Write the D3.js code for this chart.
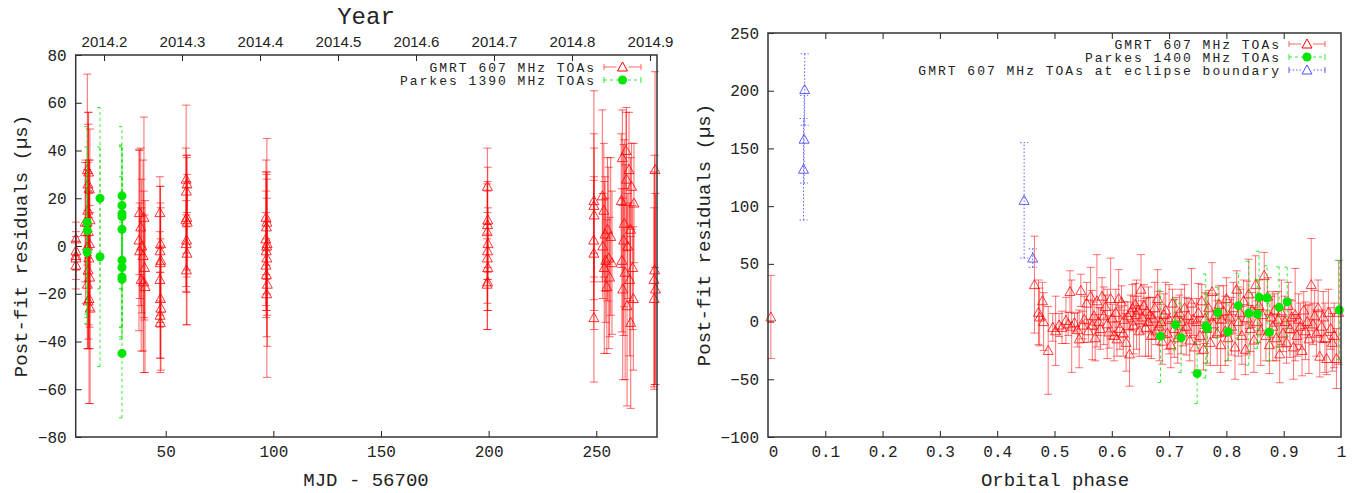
<!DOCTYPE html>
<html>
<head>
<meta charset="utf-8">
<script src="https://cdn.jsdelivr.net/npm/d3@7"></script>
<style>
  body { margin: 0; background: #fff; }
  svg text { fill: #222; }
  .mono { font-family: "Liberation Mono", monospace; }
</style>
</head>
<body>
<div id="graphicContainer"></div>
<script>
// ---- left panel: residuals vs MJD ----
var gmrtMjd = [8.3, 8.3, 8.3, 8.3, 8.3,
  12.6, 12.8, 13.6, 14.2, 13.9, 14.5, 13.8, 14.8, 13.5, 14.1, 14.6, 13.7, 14.3, 14.0, 14.7, 13.6, 14.4, 14.0, 14.9,
  37.8, 39.9, 38.4, 37.6, 38.9, 37.9, 39.5, 40.2, 38.6, 40.4, 39.8,
  47.3, 47.6, 47.4, 47.7, 47.5, 47.3, 47.6, 47.8, 47.4, 47.5,
  59.5, 59.9, 59.6, 59.8, 59.4, 60.0, 59.7, 59.5, 59.9, 59.6,
  96.6, 97.0, 96.8, 96.5, 97.1, 96.9, 96.7, 97.0, 96.6, 96.8, 97.2, 96.9,
  199.4, 199.6, 199.5, 199.3, 199.7, 199.5, 199.4, 199.6, 199.5, 199.3,
  248.9, 248.9, 249.0, 248.8, 248.9, 248.9,
  252.8, 253.5, 255.2, 254.1, 256.7, 253.0, 255.8, 254.4, 257.3, 253.7, 256.2, 254.9,
  263.8, 262.1, 265.2, 264.0, 266.4, 261.6, 267.5, 263.0, 265.9, 262.7, 264.6, 261.9, 266.9, 263.4, 265.5, 262.3, 267.2, 264.3, 266.0,
  277.3, 277.1, 276.8, 277.5, 276.9]
var gmrtRes = [3, -2, -4, -5, -8,
  10, 6, 32, 31, 26, 24, 15, 11, 10, 6, 1, 0, -5, -10, -13, -16, -22, -23, -26,
  14, 12, 8, 2.5, 0, -2, -4, -9, -14, -17, -15,
  14, 1, -2, -6, -7, -14, -22, -26, -29, -32,
  28, 26, 23, 12, 11, 10, 2.5, 1, -3, -10,
  12, 10, 8, 3, 1, 0, -2, -5, -8, -12, -16, -20,
  25, 11, 9, 6, 1, -2, -5, -9, -15, -16,
  19, 17, 13, 2.5, -3, -30,
  21, 15, 7, 5, 4, 0, -5, -6, -7, -9, -13, -17,
  40, 37, 32, 28, 25, 19, 18, 9.5, 7, 2.5, 0, -6, -9, -11, -14, -18, -22, -25, -32,
  32, -10, -14, -18, -22]
var gmrtErr = [7, 8, 6, 9, 10,
  25, 30, 40, 25, 30, 12, 20, 38, 22, 45, 35, 15, 28, 33, 30, 27, 44, 20, 40,
  26, 42, 33, 38, 28, 20, 40, 22, 30, 36, 38,
  15, 24, 27, 22, 25, 20, 25, 26, 18, 21,
  31, 12, 15, 25, 30, 20, 22, 18, 30, 23,
  24, 18, 22, 28, 30, 20, 25, 50, 22, 15, 26, 18,
  16, 22, 18, 20, 15, 25, 19, 18, 20, 19,
  46, 30, 28, 25, 32, 27,
  36, 28, 30, 24, 33, 22, 38, 26, 30, 36, 25, 28,
  16, 20, 24, 30, 18, 28, 25, 35, 30, 40, 22, 30, 26, 45, 32, 38, 30, 42, 36,
  41, 48, 45, 40, 38]

var parkesMjd = [13.5, 13.6, 13.5, 19.5, 19.5, 29.7, 29.7, 29.7, 29.7, 29.7, 29.7, 29.7, 29.7, 29.7, 29.7]
var parkesRes = [10, 6.5, -2.5, 20, -4.5, 21, 17, 13.5, 12.3, 7, -6, -9, -13, -14, -45]
var parkesErr = [40, 35, 30, 38, 46, 29, 25, 28, 30, 22, 28, 25, 26, 24, 27]

var mjdTicks = [50, 100, 150, 200, 250]
var resTicksLeft = [-80, -60, -40, -20, 0, 20, 40, 60, 80]
var yearTicks = [2014.2, 2014.3, 2014.4, 2014.5, 2014.6, 2014.7, 2014.8, 2014.9]

// ---- right panel: residuals vs orbital phase ----
var phaseGmrt = [0.005,
  0.465, 0.472, 0.474, 0.479, 0.481, 0.489, 0.497, 0.502, 0.508, 0.513, 0.52, 0.524, 0.527, 0.53, 0.535, 0.54, 0.543, 0.546, 0.549, 0.552,
  0.556, 0.559, 0.563, 0.566, 0.569, 0.571, 0.574, 0.577, 0.58, 0.583, 0.586, 0.589, 0.592, 0.595, 0.598, 0.601, 0.604, 0.607, 0.609, 0.612,
  0.614, 0.617, 0.62, 0.622, 0.625, 0.628, 0.631, 0.633, 0.636, 0.638, 0.641, 0.643, 0.646, 0.648, 0.651, 0.653, 0.656, 0.659, 0.661, 0.664,
  0.667, 0.669, 0.672, 0.675, 0.677, 0.68, 0.683, 0.686, 0.688, 0.691, 0.694, 0.697, 0.70, 0.703, 0.706, 0.709, 0.712, 0.715, 0.718, 0.721,
  0.724, 0.727, 0.730, 0.733, 0.736, 0.739, 0.742, 0.745, 0.748, 0.751, 0.754, 0.757, 0.76, 0.763, 0.766, 0.769, 0.772, 0.775, 0.778, 0.781,
  0.784, 0.787, 0.79, 0.792, 0.795, 0.798, 0.80, 0.803, 0.806, 0.809, 0.812, 0.815, 0.818, 0.821, 0.824, 0.827, 0.83, 0.833, 0.836, 0.839,
  0.842, 0.845, 0.848, 0.851, 0.854, 0.857, 0.86, 0.863, 0.866, 0.869, 0.872, 0.875, 0.878, 0.881, 0.884, 0.887, 0.89, 0.893, 0.896, 0.899,
  0.902, 0.905, 0.908, 0.911, 0.914, 0.917, 0.92, 0.923, 0.926, 0.929, 0.932, 0.935, 0.938, 0.941, 0.944, 0.948, 0.951, 0.954, 0.957, 0.96,
  0.963, 0.966, 0.969, 0.972, 0.975, 0.978, 0.982, 0.985, 0.988, 0.992, 0.996]
var resGmrt = [4,
  32, 8, 4, 18, 0, -25, -5, -8, -3, -5, 1, -2, 26, -4, -1, -7, -15, 27, -3, 2,
  16, -8, 22, -3, 5, -14, 18, 0, -6, 22, 5, 13, -2, -9, 20, 3, -12, 8, -15, 20,
  -6, 17, -10, 2, -18, 5, -28, 8, 12, -3, 15, 6, 10, -8, 28, 4, 14, -5, 9, 0,
  6, -12, 3, 12, -8, 20, -4, 0, -17, 6, 10, -10, 2, -20, 16, -6, 3, -14, 8, 0,
  -9, 12, -4, 5, -16, 16, 2, -22, 0, 8, -12, 18, -24, 3, -6, 12, -18, 26, -2, 6,
  -10, 15, -20, 2, 9, -8, 20, -14, 4, -4, 12, -22, 28, 0, 8, -12, 18, -24, 3, 24,
  -6, 10, -16, 32, 0, 14, -8, 6, 40, -12, 22, -20, 4, -4, 10, -14, 2, -28, 8, -10,
  0, -18, 14, -6, 4, -22, 6, -12, 2, -4, -25, 10, -8, 0, -15, 32, -2, 5, -10, 12,
  -30, -4, 4, -14, -32, 8, -6, -18, -12, -32, 8]
var errGmrt = [36,
  42, 28, 25, 16, 25, 38, 12, 30, 10, 14, 20, 10, 18, 40, 8, 15, 25, 14, 12, 20,
  18, 10, 25, 30, 12, 20, 40, 12, 18, 16, 25, 10, 30, 14, 35, 12, 22, 20, 15, 25,
  18, 14, 20, 15, 25, 12, 28, 15, 20, 25, 18, 30, 12, 22, 30, 14, 18, 25, 12, 30,
  15, 20, 18, 22, 12, 25, 30, 15, 20, 18, 24, 14, 30, 20, 12, 25, 18, 22, 15, 28,
  12, 20, 25, 15, 18, 30, 14, 22, 20, 25, 16, 14, 18, 22, 30, 15, 20, 25, 12, 18,
  28, 16, 24, 14, 22, 30, 18, 20, 15, 25, 22, 28, 16, 30, 20, 25, 18, 22, 32, 30,
  20, 15, 28, 25, 18, 22, 30, 16, 20, 22, 16, 25, 18, 30, 14, 20, 24, 25, 28, 16,
  22, 18, 20, 25, 14, 28, 40, 18, 22, 20, 22, 16, 25, 14, 30, 40, 18, 22, 20, 24,
  18, 14, 22, 30, 14, 20, 18, 25, 28, 26, 45]

var phaseParkes = [0.685, 0.711, 0.721, 0.749, 0.764, 0.767, 0.785, 0.803, 0.821, 0.839, 0.854, 0.857, 0.871, 0.875, 0.892, 0.906, 0.997]
var resParkes = [-12.8, -2.7, -14, -45, -3.8, -6, 7.7, -8.8, 13.8, 7.2, 6.6, 21, 20.4, -9.3, 12.4, 17.2, 10]
var errParkes = [40, 22, 30, 26, 45, 30, 22, 25, 28, 45, 30, 40, 28, 25, 35, 30, 43]

var phaseEclipse = [0.064, 0.063, 0.062, 0.447, 0.462]
var resEclipse = [201, 158, 132, 105, 55]
var errEclipse = [31, 38, 44, 50, 8]

var phaseTicks = [0, 0.1, 0.2, 0.3, 0.4, 0.5, 0.6, 0.7, 0.8, 0.9, 1]
var resTicksRight = [-100, -50, 0, 50, 100, 150, 200, 250]

var width = 1364, height = 493

var svg = d3.select("#graphicContainer").append("svg")
	.attr("width", width)
	.attr("height", height)

var red = "#ff0000", green = "#00e600", blue = "#4d4dff"

function triangle(g, x, y, color, op) {
	var s = 5
	g.append("path")
		.attr("d", "M" + (x - s) + "," + (y + s * 0.8) + "L" + (x + s) + "," + (y + s * 0.8) + "L" + x + "," + (y - s * 1.0) + "Z")
		.attr("fill", "none")
		.attr("stroke", color)
		.attr("stroke-opacity", op)
		.attr("stroke-width", 1)
}

function errorBars(g, xs, ys, es, xScale, yScale, color, op, dash, cap) {
	xs.forEach(function(d, i) {
		var x = xScale(d), y1 = yScale(ys[i] - es[i]), y2 = yScale(ys[i] + es[i])
		var bar = g.append("g")
			.attr("stroke", color)
			.attr("stroke-opacity", op)
			.attr("stroke-width", 1)
			.attr("stroke-dasharray", dash)
		bar.append("line").attr("x1", x).attr("x2", x).attr("y1", y1).attr("y2", y2)
		bar.append("line").attr("x1", x - cap).attr("x2", x + cap).attr("y1", y1).attr("y2", y1).attr("stroke-dasharray", null)
		bar.append("line").attr("x1", x - cap).attr("x2", x + cap).attr("y1", y2).attr("y2", y2).attr("stroke-dasharray", null)
	})
}

function styleAxis(ax) {
	ax.select(".domain").remove()
	ax.selectAll(".tick line").attr("stroke", "#222").attr("stroke-width", 1)
	ax.selectAll(".tick text").attr("fill", "#222")
}

function legendRow(g, xText, y, label, x1, x2, color, op, dash, marker) {
	g.append("text")
		.attr("class", "mono")
		.attr("x", xText).attr("y", y)
		.attr("dy", "0.35em")
		.attr("text-anchor", "end")
		.attr("font-size", 13)
		.attr("letter-spacing", 2)
		.text(label)
	var s = g.append("g").attr("stroke", color).attr("stroke-opacity", op).attr("stroke-width", 1)
	s.append("line").attr("x1", x1).attr("x2", x2).attr("y1", y).attr("y2", y).attr("stroke-dasharray", dash)
	s.append("line").attr("x1", x1).attr("x2", x1).attr("y1", y - 3).attr("y2", y + 3)
	s.append("line").attr("x1", x2).attr("x2", x2).attr("y1", y - 3).attr("y2", y + 3)
	var mx = (x1 + x2) / 2
	if (marker == "circle") {
		g.append("circle").attr("cx", mx).attr("cy", y).attr("r", 4.5).attr("fill", color)
	} else {
		g.append("rect").attr("x", mx - 6).attr("y", y - 6).attr("width", 12).attr("height", 12).attr("fill", "#fff")
		triangle(g, mx, y, color, 1)
	}
}

// ================= LEFT PANEL =================
var L = {left: 75.7, right: 657, top: 55, bottom: 437}

var xL = d3.scaleLinear().domain([8.2, 278.2]).range([L.left, L.right])
var yL = d3.scaleLinear().domain([-80, 80]).range([L.bottom, L.top])
var yearScale = d3.scaleLinear().domain([2014.1637, 2014.909]).range([L.left, L.right])

var gL = svg.append("g")

var axB = gL.append("g").attr("class", "mono")
	.attr("transform", "translate(0," + L.bottom + ")")
	.call(d3.axisBottom(xL).tickValues(mjdTicks).tickSizeInner(-6).tickSizeOuter(0).tickPadding(9))
axB.attr("font-size", 16).attr("font-family", "Liberation Mono")
styleAxis(axB)

var axLf = gL.append("g")
	.attr("transform", "translate(" + L.left + ",0)")
	.call(d3.axisLeft(yL).tickValues(resTicksLeft).tickSizeInner(-6).tickSizeOuter(0).tickPadding(9))
axLf.attr("font-size", 16).attr("font-family", "Liberation Mono")
styleAxis(axLf)

var axT = gL.append("g")
	.attr("transform", "translate(0," + L.top + ")")
	.call(d3.axisTop(yearScale).tickValues(yearTicks).tickFormat(d3.format(".1f")).tickSizeInner(-6).tickSizeOuter(0).tickPadding(8))
axT.attr("font-size", 15).attr("font-family", "Liberation Sans")
styleAxis(axT)

errorBars(gL, gmrtMjd, gmrtRes, gmrtErr, xL, yL, red, 0.6, null, 4)
gmrtMjd.forEach(function(d, i) { triangle(gL, xL(d), yL(gmrtRes[i]), red, 0.8) })
errorBars(gL, parkesMjd, parkesRes, parkesErr, xL, yL, green, 0.8, "3,3", 3)
gL.selectAll("circle.pk")
	.data(parkesMjd)
	.enter()
	.append("circle")
	.attr("class", "pk")
	.attr("cx", d => xL(d))
	.attr("cy", (d, i) => yL(parkesRes[i]))
	.attr("r", 4.5)
	.attr("fill", green)

gL.append("rect")
	.attr("x", L.left).attr("y", L.top)
	.attr("width", L.right - L.left).attr("height", L.bottom - L.top)
	.attr("fill", "none").attr("stroke", "#333").attr("stroke-width", 1.5)

legendRow(gL, 596, 67, "GMRT 607 MHz TOAs", 604, 641, red, 0.6, null, "tri")
legendRow(gL, 596, 80, "Parkes 1390 MHz TOAs", 604, 641, green, 0.8, "3,3", "circle")

gL.append("text").attr("class", "mono")
	.attr("x", 366).attr("y", 479).attr("dy", "0.35em")
	.attr("text-anchor", "middle").attr("font-size", 19)
	.text("MJD - 56700")

gL.append("text").attr("class", "mono")
	.attr("x", 366).attr("y", 16).attr("dy", "0.35em")
	.attr("text-anchor", "middle").attr("font-size", 24)
	.text("Year")

gL.append("text").attr("class", "mono")
	.attr("transform", "translate(20,246) rotate(-90)")
	.attr("dy", "0.35em")
	.attr("text-anchor", "middle").attr("font-size", 19)
	.text("Post-fit residuals (µs)")

// ================= RIGHT PANEL =================
var R = {left: 768, right: 1341, top: 33, bottom: 437}

var xR = d3.scaleLinear().domain([0, 1]).range([R.left, R.right])
var yR = d3.scaleLinear().domain([-100, 250]).range([R.bottom, R.top])

var gR = svg.append("g")

var axRB = gR.append("g")
	.attr("transform", "translate(0," + R.bottom + ")")
	.call(d3.axisBottom(xR).tickValues(phaseTicks).tickFormat(d3.format("~g")).tickSizeInner(-6).tickSizeOuter(0).tickPadding(9))
axRB.attr("font-size", 16).attr("font-family", "Liberation Mono")
styleAxis(axRB)
axRB.selectAll(".tick").filter(d => d == 0 || d == 1).select("line").remove()
axRB.selectAll(".tick").filter(d => d == 0).select("text").attr("dx", 5)

var axRT = gR.append("g")
	.attr("transform", "translate(0," + R.top + ")")
	.call(d3.axisTop(xR).tickValues(phaseTicks.slice(1, -1)).tickFormat("").tickSizeInner(-6).tickSizeOuter(0))
styleAxis(axRT)

var axRL = gR.append("g")
	.attr("transform", "translate(" + R.left + ",0)")
	.call(d3.axisLeft(yR).tickValues(resTicksRight).tickSizeInner(-6).tickSizeOuter(0).tickPadding(9))
axRL.attr("font-size", 16).attr("font-family", "Liberation Mono")
styleAxis(axRL)

errorBars(gR, phaseGmrt, resGmrt, errGmrt, xR, yR, red, 0.55, null, 4)
phaseGmrt.forEach(function(d, i) { triangle(gR, xR(d), yR(resGmrt[i]), red, 0.75) })
errorBars(gR, phaseParkes, resParkes, errParkes, xR, yR, green, 0.8, "3,3", 3)
gR.selectAll("circle.pk")
	.data(phaseParkes)
	.enter()
	.append("circle")
	.attr("class", "pk")
	.attr("cx", d => xR(d))
	.attr("cy", (d, i) => yR(resParkes[i]))
	.attr("r", 4.5)
	.attr("fill", green)
errorBars(gR, phaseEclipse, resEclipse, errEclipse, xR, yR, blue, 0.9, "1.5,2", 4)
phaseEclipse.forEach(function(d, i) { triangle(gR, xR(d), yR(resEclipse[i]), blue, 0.9) })

gR.append("rect")
	.attr("x", R.left).attr("y", R.top)
	.attr("width", R.right - R.left).attr("height", R.bottom - R.top)
	.attr("fill", "none").attr("stroke", "#333").attr("stroke-width", 1.5)

legendRow(gR, 1281, 44, "GMRT 607 MHz TOAs", 1289, 1325, red, 0.6, null, "tri")
legendRow(gR, 1281, 57, "Parkes 1400 MHz TOAs", 1289, 1325, green, 0.8, "3,3", "circle")
legendRow(gR, 1281, 70, "GMRT 607 MHz TOAs at eclipse boundary", 1289, 1325, blue, 0.9, "1.5,2", "tri")

gR.append("text").attr("class", "mono")
	.attr("x", 1055).attr("y", 479).attr("dy", "0.35em")
	.attr("text-anchor", "middle").attr("font-size", 19)
	.text("Orbital phase")

gR.append("text").attr("class", "mono")
	.attr("transform", "translate(703,235) rotate(-90)")
	.attr("dy", "0.35em")
	.attr("text-anchor", "middle").attr("font-size", 19)
	.text("Post-fit residuals (µs)")
</script>
</body>
</html>
